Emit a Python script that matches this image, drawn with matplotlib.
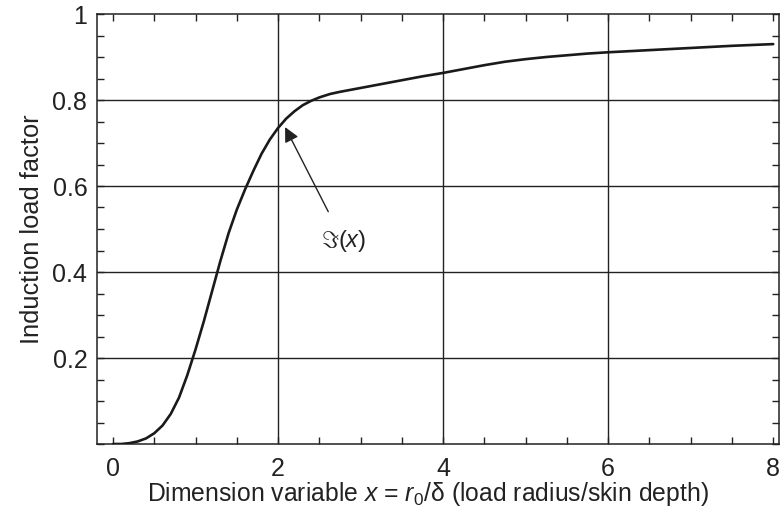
import matplotlib
matplotlib.use("Agg")
import matplotlib.pyplot as plt
from matplotlib.ticker import MultipleLocator, FixedLocator

plt.rcParams['font.family'] = ['Liberation Sans', 'DejaVu Sans']
plt.rcParams['mathtext.fontset'] = 'custom'
plt.rcParams['mathtext.rm'] = 'Liberation Sans'
plt.rcParams['mathtext.it'] = 'Liberation Sans:italic'
plt.rcParams['mathtext.cal'] = 'DejaVu Sans'

# Induction load factor versus x = r0/delta
x_vals = [0.0, 0.1, 0.2, 0.3, 0.4, 0.5, 0.6, 0.7, 0.8, 0.9, 1.0, 1.1, 1.2, 1.3,
          1.4, 1.5, 1.6, 1.7, 1.8, 1.9, 2.0, 2.1, 2.2, 2.3, 2.4, 2.5, 2.63, 2.75,
          3.0, 3.25, 3.5, 3.75, 4.0, 4.25, 4.5, 4.75, 5.0, 5.25, 5.5, 5.75, 6.0,
          6.5, 7.0, 7.5, 8.0]
y_vals = [0.0, 0.0, 0.002, 0.006, 0.013, 0.025, 0.043, 0.07, 0.108, 0.16, 0.22,
          0.285, 0.355, 0.425, 0.49, 0.545, 0.592, 0.635, 0.675, 0.708, 0.735,
          0.757, 0.774, 0.788, 0.798, 0.806, 0.814, 0.819, 0.828, 0.837, 0.846,
          0.855, 0.863, 0.872, 0.881, 0.889, 0.895, 0.900, 0.904, 0.908, 0.911,
          0.916, 0.921, 0.926, 0.930]

x_ticks = [0, 2, 4, 6, 8]
x_ticklabels = ['0', '2', '4', '6', '8']
y_ticks = [0.2, 0.4, 0.6, 0.8, 1.0]
y_ticklabels = ['0.2', '0.4', '0.6', '0.8', '1']

fig = plt.figure(figsize=(7.8, 5.22), dpi=100)
ax = fig.add_axes([97 / 780, 1 - 444 / 522, (779 - 97) / 780, (444 - 14) / 522])

ax.set_xlim(-0.194, 8.07)
ax.set_ylim(0.0, 1.0)

ax.plot(x_vals, y_vals, color='#1a1a1a', lw=1.9, solid_capstyle='round',
        solid_joinstyle='round', zorder=3)

# grid lines at the labelled values
for gx in x_ticks[1:-1]:
    ax.axvline(gx, color='#222222', lw=1.0, zorder=1)
for gy in y_ticks[:-1]:
    ax.axhline(gy, color='#222222', lw=1.0, zorder=1)

ax.xaxis.set_major_locator(FixedLocator(x_ticks))
ax.set_xticklabels(x_ticklabels)
ax.yaxis.set_major_locator(FixedLocator(y_ticks))
ax.set_yticklabels(y_ticklabels)
ax.xaxis.set_minor_locator(MultipleLocator(0.5))
ax.yaxis.set_minor_locator(MultipleLocator(0.05))
ax.tick_params(which='both', direction='in', top=True, right=True,
               length=5, width=1.0, color='#222222', labelsize=18,
               labelcolor='#222222')
ax.tick_params(axis='x', which='major', pad=9)
ax.tick_params(axis='y', which='major', pad=7)

for s in ax.spines.values():
    s.set_linewidth(1.1)
    s.set_color('#222222')

ax.set_xlabel(r'Dimension variable $x$ = $r_0$/δ (load radius/skin depth)',
              fontsize=17.8, color='#222222', labelpad=0)
ax.xaxis.label.set_x((427.5 - 97) / 682)
ax.set_ylabel('Induction load factor', fontsize=18.3, color='#222222', labelpad=6)

ax.annotate(r'$\Im(x)$', xy=(2.085, 0.737), xytext=(2.79, 0.472),
            ha='center', va='center', fontsize=17, color='#222222',
            arrowprops=dict(arrowstyle='-|>', color='#222222', lw=1.0,
                            mutation_scale=22, shrinkA=11, shrinkB=0))

fig.savefig('out.png', dpi=100)
